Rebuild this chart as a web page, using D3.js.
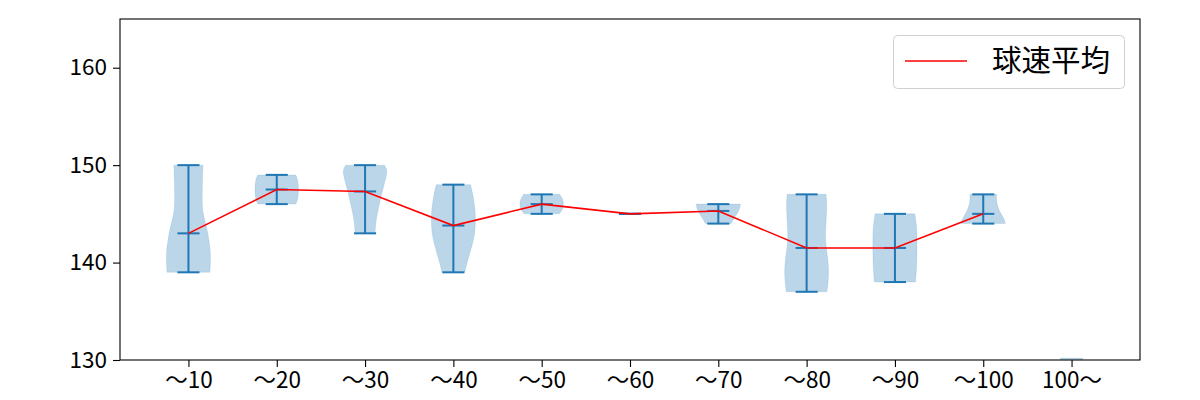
<!DOCTYPE html>
<html><head><meta charset="utf-8">
<script src="https://cdn.jsdelivr.net/npm/d3@7"></script>
<style>body{margin:0;background:#fff}svg{display:block}text{font-family:"Noto Sans CJK JP","Noto Sans",sans-serif}</style>
</head><body><svg id="c" width="1200" height="400"></svg>
<script>
const categories = ["〜10","〜20","〜30","〜40","〜50","〜60","〜70","〜80","〜90","〜100","100〜"];
const minVals  = [139, 146, 143, 139, 145, 145, 144, 137, 138, 144, null];
const maxVals  = [150, 149, 150, 148, 147, 145, 146, 147, 145, 147, null];
const meanVals = [143, 147.5, 147.3, 143.8, 146, 145, 145.3, 141.5, 141.5, 145, null];
// violin outlines: [value, relative half-width]
const shapes = [
  [[139,0.97],[140,1.0],[141,1.0],[142,0.95],[143,0.88],[144,0.78],[145,0.66],[146,0.62],[148,0.63],[150,0.66]],
  [[146,0.86],[146.5,0.96],[147.5,1.0],[148.5,0.96],[149,0.86]],
  [[143,0.45],[144,0.48],[145,0.55],[146,0.65],[147,0.75],[148,0.86],[149,0.98],[149.5,1.0],[150,0.88]],
  [[139,0.52],[140,0.62],[141,0.75],[142,0.88],[143,0.97],[144,1.0],[145,1.0],[146,0.95],[147,0.88],[148,0.78]],
  [[145,0.8],[145.5,0.96],[146,1.0],[146.5,0.96],[147,0.82]],
  [],
  [[144,0.58],[144.5,0.7],[145,0.85],[145.5,0.97],[146,1.0]],
  [[137,0.92],[138,0.98],[139,1.0],[140,0.98],[141,0.92],[142,0.86],[143,0.85],[144,0.88],[145,0.9],[146,0.92],[147,0.88]],
  [[138,0.93],[139,0.97],[140,0.99],[141,1.0],[142,1.0],[143,1.0],[144,0.97],[145,0.9]],
  [[144,1.0],[144.5,0.95],[145,0.8],[145.5,0.7],[146,0.62],[146.5,0.6],[147,0.6]],
  [[128,0.6],[129,0.55],[130.2,0.5]]
];
const yTicks = [130, 140, 150, 160];
const legendLabel = "球速平均";

const svg = d3.select("#c");
const L = 120, R = 1140, T = 19, B = 360;
const x = d3.scaleLinear().domain([0.225, 11.775]).range([L, R]);
const y = d3.scaleLinear().domain([130, 165]).range([B, T]);
const hw = x(1.25) - x(1);
const blue = "#1f77b4";

svg.append("defs").append("clipPath").attr("id","clip")
  .append("rect").attr("x",L).attr("y",T).attr("width",R-L).attr("height",B-T);
const g = svg.append("g").attr("clip-path","url(#clip)");

const area = d3.area().curve(d3.curveBasis)
  .y(d => y(d[0]));
shapes.forEach((s, i) => {
  if (!s.length) return;
  const cx = x(i + 1);
  g.append("path").datum(s)
    .attr("d", area.x0(d => cx - d[1]*hw).x1(d => cx + d[1]*hw)(s))
    .attr("fill", blue).attr("fill-opacity", 0.3)
    .attr("stroke", blue).attr("stroke-opacity", 0.15).attr("stroke-width", 0.8);
});

categories.forEach((c, i) => {
  if (minVals[i] == null) return;
  const cx = x(i + 1), bw = hw / 2;
  g.append("line").attr("x1",cx).attr("x2",cx).attr("y1",y(minVals[i])).attr("y2",y(maxVals[i]))
    .attr("stroke",blue).attr("stroke-width",2);
  [minVals[i], maxVals[i], meanVals[i]].forEach(v => {
    g.append("line").attr("x1",cx-bw).attr("x2",cx+bw).attr("y1",y(v)).attr("y2",y(v))
      .attr("stroke",blue).attr("stroke-width",2);
  });
});

const line = d3.line().defined(d => d != null).x((d, i) => x(i + 1)).y(d => y(d));
g.append("path").attr("d", line(meanVals)).attr("fill","none").attr("stroke","#ff0000").attr("stroke-width",1.6);

// axes
const xAxis = d3.axisBottom(x).tickValues(d3.range(1, 12)).tickFormat((d) => categories[d-1]).tickSizeOuter(0).tickSize(7).tickPadding(5);
const gx = svg.append("g").attr("transform",`translate(0,${B})`).call(xAxis);
const yAxis = d3.axisLeft(y).tickValues(yTicks).tickSizeOuter(0).tickSize(7).tickPadding(6);
const gy = svg.append("g").attr("transform",`translate(${L},0)`).call(yAxis);
[gx, gy].forEach(a => {
  a.select(".domain").remove();
  a.selectAll("line").attr("stroke","#000").attr("stroke-width",1.1);
  a.selectAll("text").attr("fill","#000").style("font-size","22.5px").style("font-family",'"Noto Sans CJK JP",sans-serif');
});
svg.append("rect").attr("x",L).attr("y",T).attr("width",R-L).attr("height",B-T)
  .attr("fill","none").attr("stroke","#000").attr("stroke-width",1.1);

// legend
const lg = svg.append("g");
lg.append("rect").attr("x",893.5).attr("y",35.5).attr("width",231).attr("height",53).attr("rx",4)
  .attr("fill","#fff").attr("fill-opacity",0.8).attr("stroke","#d0d0d0").attr("stroke-width",1);
lg.append("line").attr("x1",905).attr("x2",967).attr("y1",61).attr("y2",61).attr("stroke","#ff0000").attr("stroke-width",1.6);
lg.append("text").attr("x",992).attr("y",71).text(legendLabel).style("font-size","29.5px").attr("fill","#000");
</script></body></html>
